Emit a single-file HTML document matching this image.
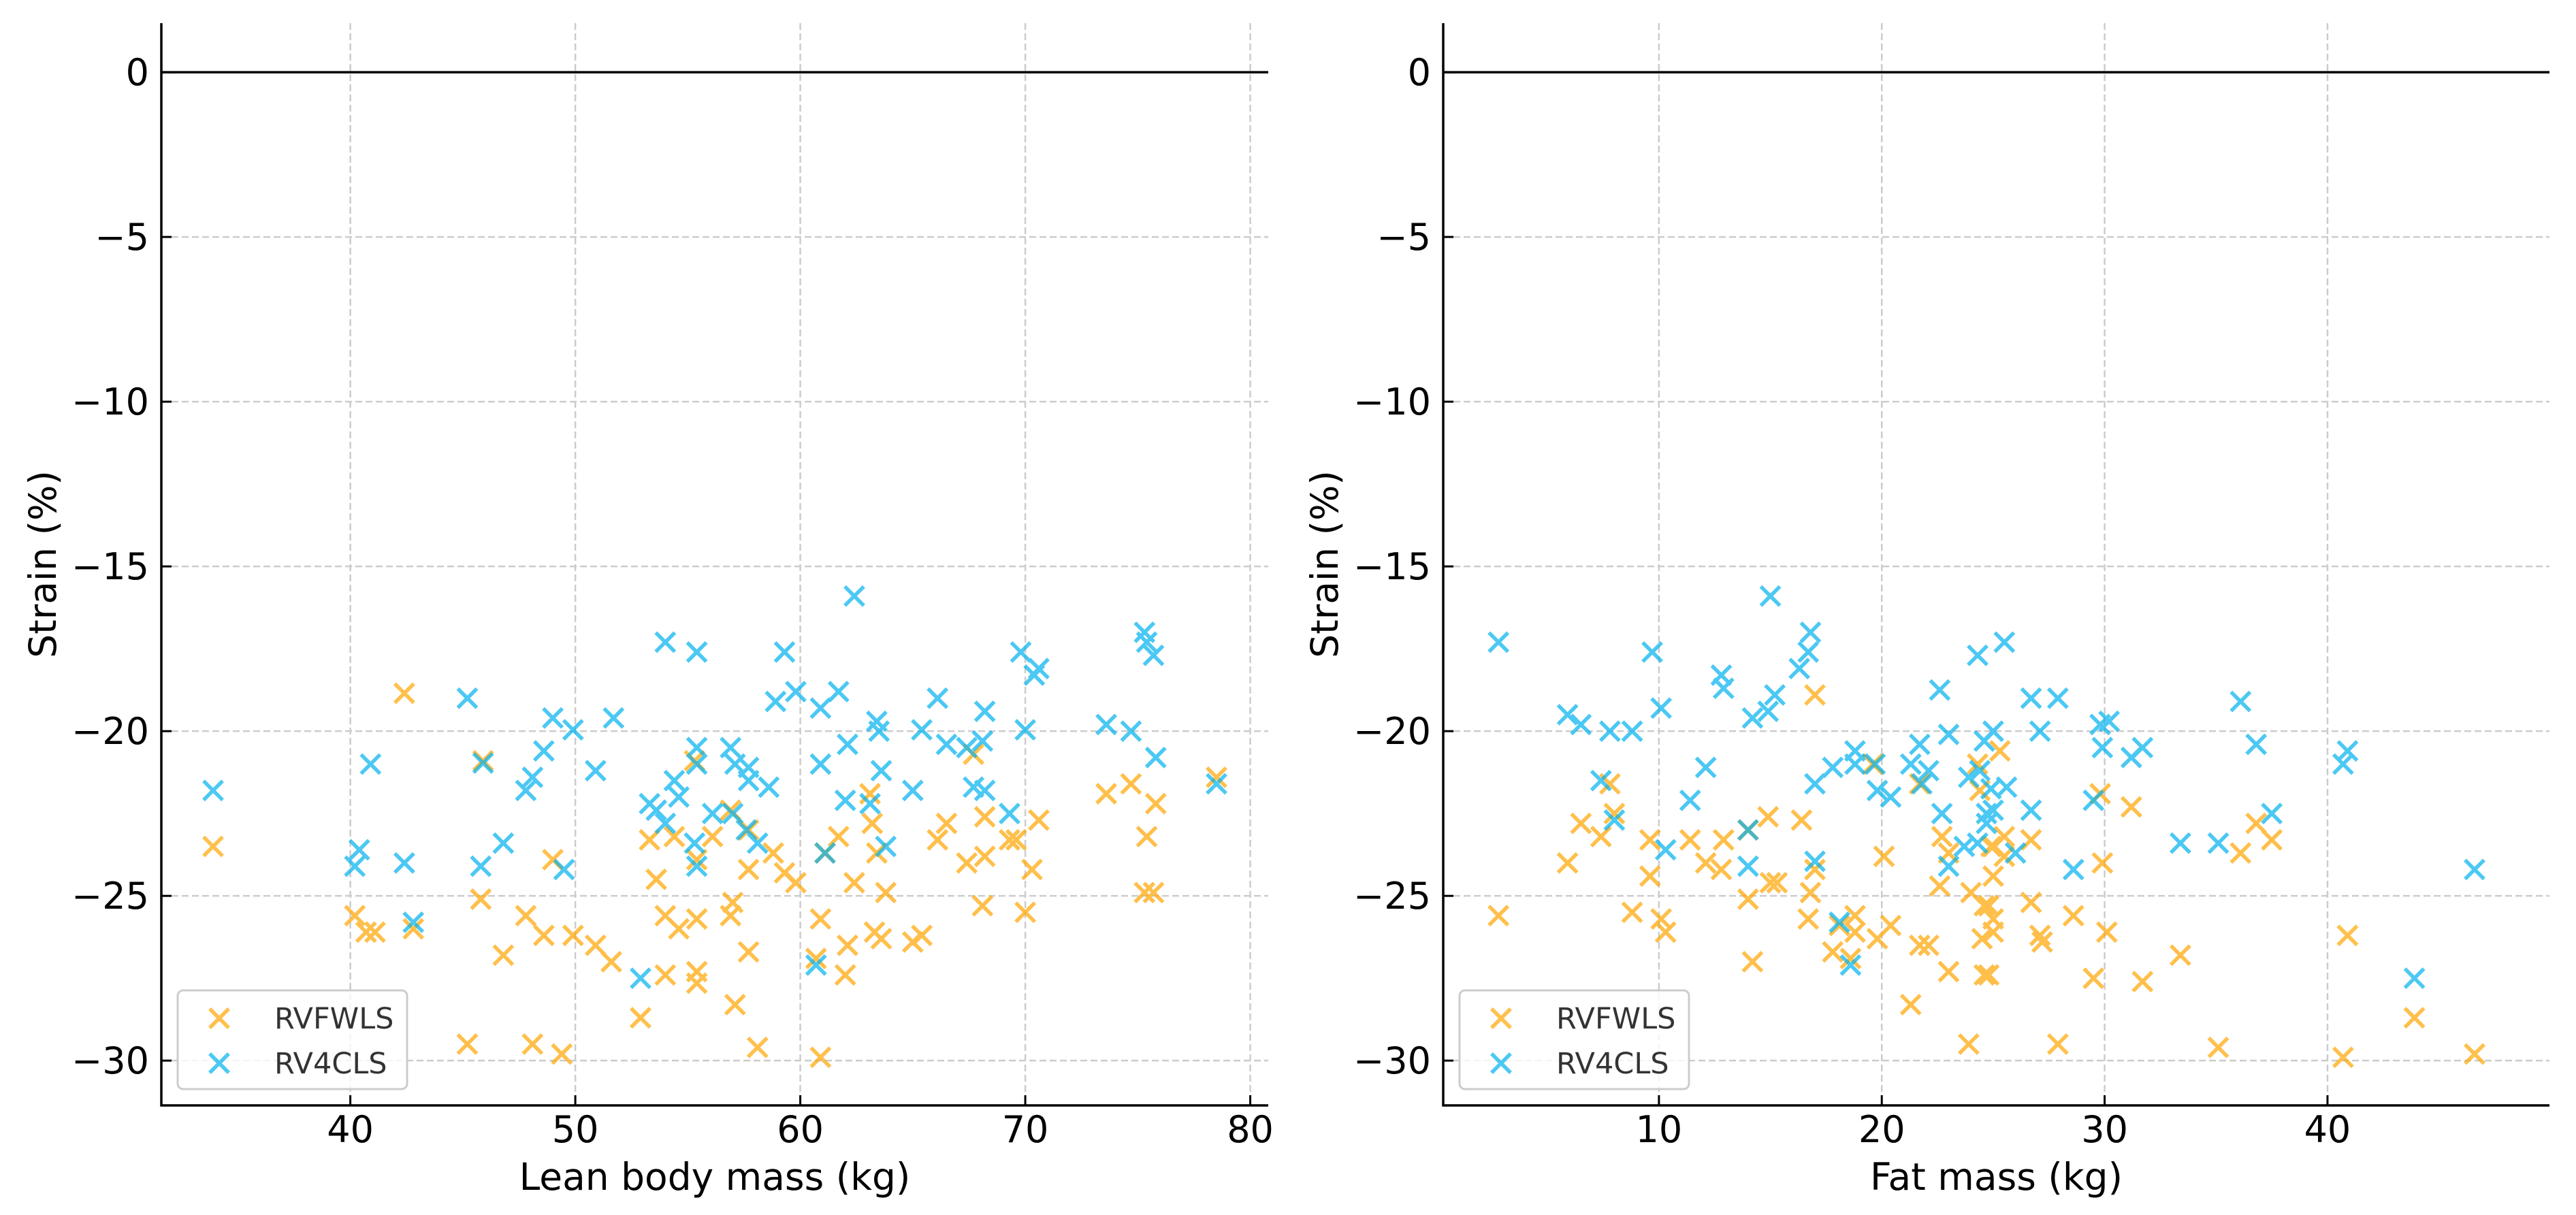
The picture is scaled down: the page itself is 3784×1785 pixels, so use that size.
<!DOCTYPE html>
<html><head><meta charset="utf-8"><style>
html,body{margin:0;padding:0;background:#fff;}
svg{display:block;font-family:"DejaVu Sans","Liberation Sans",sans-serif;}
</style></head><body>
<svg id="chart" width="3784" height="1785" viewBox="0 0 3784 1785" xmlns="http://www.w3.org/2000/svg"></svg>
<script>
// ---- data ----
const yTicks = [0, -5, -10, -15, -20, -25, -30];
const leanTicks = [40, 50, 60, 70, 80];
const fatTicks = [10, 20, 30, 40];
const seriesNames = ["RVFWLS", "RV4CLS"];

const leanRVFWLS_x = [33.9,42.4,45.9,40.2,40.7,41.1,42.8,45.8,46.8,49.0,47.8,48.6,49.9,50.9,51.6,45.2,48.1,49.4,52.9,53.3,53.6,54.4,54.0,54.6,54.0,55.4,55.4,55.4,55.3,55.4,56.1,56.9,57.7,57.7,58.8,59.3,59.8,57.0,56.9,57.7,57.1,58.1,60.9,60.9,60.7,62.0,62.1,62.4,61.7,63.1,63.2,63.4,63.8,63.3,63.6,65.0,65.4,66.1,66.5,67.4,67.7,68.2,68.2,68.1,69.3,69.6,70.3,70.6,70.0,73.6,74.7,75.8,75.4,75.3,75.7,78.5,61.1];
const leanRVFWLS_y = [-23.5,-18.85,-20.9,-25.6,-26.1,-26.1,-26.0,-25.1,-26.8,-23.9,-25.6,-26.2,-26.2,-26.5,-27.0,-29.5,-29.5,-29.8,-28.7,-23.3,-24.5,-23.2,-25.6,-26.0,-27.4,-25.7,-27.3,-27.65,-20.9,-23.9,-23.2,-22.4,-23.0,-24.2,-23.7,-24.3,-24.6,-25.2,-25.6,-26.7,-28.3,-29.6,-29.9,-25.7,-26.9,-27.4,-26.5,-24.6,-23.2,-21.9,-22.8,-23.7,-24.9,-26.1,-26.3,-26.4,-26.2,-23.3,-22.8,-24.0,-20.7,-22.6,-23.8,-25.3,-23.3,-23.3,-24.2,-22.7,-25.5,-21.9,-21.6,-22.2,-23.2,-24.9,-24.9,-21.4,-23.7];
const leanRV4CLS_x = [33.9,40.9,40.2,40.4,42.4,42.8,45.2,45.9,45.8,46.8,47.8,48.1,48.6,49.0,49.5,49.9,50.9,51.7,52.9,53.3,53.6,54.0,54.4,54.6,54.0,55.4,55.4,55.4,55.3,55.4,56.1,56.9,57.1,57.7,57.7,58.6,58.1,57.6,57.0,59.3,58.9,59.8,60.9,61.7,62.4,60.9,62.1,63.1,63.4,63.5,63.6,63.8,60.7,62.0,65.0,65.4,66.1,66.5,67.4,68.2,68.1,67.7,68.2,69.3,69.8,70.0,70.4,70.6,73.6,74.7,75.3,75.4,75.7,75.8,78.5,61.1];
const leanRV4CLS_y = [-21.8,-21.0,-24.1,-23.6,-24.0,-25.8,-19.0,-20.97,-24.1,-23.4,-21.8,-21.4,-20.6,-19.6,-24.2,-19.96,-21.2,-19.6,-27.5,-22.2,-22.4,-22.8,-21.5,-22.0,-17.3,-17.6,-20.5,-21.0,-23.4,-24.1,-22.5,-20.5,-21.0,-21.1,-21.5,-21.7,-23.4,-23.0,-22.5,-17.6,-19.1,-18.8,-19.3,-18.8,-15.9,-21.0,-20.4,-22.2,-19.7,-20.0,-21.2,-23.5,-27.1,-22.1,-21.8,-19.96,-19.0,-20.4,-20.5,-19.4,-20.3,-21.7,-21.8,-22.5,-17.6,-19.96,-18.3,-18.1,-19.8,-20.0,-17.0,-17.3,-17.7,-20.8,-21.6,-23.7];

const fatRVFWLS_x = [2.8,5.9,6.5,7.4,7.8,8.0,8.8,9.6,9.6,10.1,10.3,11.4,12.1,12.8,12.9,14.0,14.0,14.2,14.9,15.0,15.3,16.4,16.8,16.7,17.0,17.0,17.8,18.1,18.8,18.8,18.6,19.6,20.1,19.8,20.4,21.7,21.7,22.1,21.3,22.7,23.0,22.6,23.0,23.9,24.3,24.4,24.0,24.6,24.5,24.6,24.9,25.3,25.5,25.0,25.5,25.0,24.8,25.0,25.0,24.8,26.7,26.7,27.1,27.2,27.9,28.6,29.5,29.8,29.9,30.1,31.2,31.7,33.4,35.1,36.1,36.8,37.5,40.9,40.7,43.9,46.6];
const fatRVFWLS_y = [-25.6,-24.0,-22.8,-23.2,-21.6,-22.5,-25.5,-23.3,-24.4,-25.7,-26.1,-23.3,-24.0,-24.2,-23.3,-23.0,-25.1,-27.0,-22.6,-24.6,-24.6,-22.7,-24.9,-25.7,-18.9,-24.2,-26.7,-25.9,-25.6,-26.1,-26.9,-21.0,-23.8,-26.3,-25.9,-21.6,-26.5,-26.5,-28.3,-23.2,-23.7,-24.7,-27.3,-29.5,-21.0,-21.8,-24.9,-25.3,-26.3,-27.4,-23.5,-20.6,-23.2,-23.5,-23.8,-24.4,-25.3,-25.7,-26.1,-27.4,-23.3,-25.2,-26.2,-26.4,-29.5,-25.6,-27.5,-21.9,-24.0,-26.1,-22.3,-27.6,-26.8,-29.6,-23.7,-22.8,-23.3,-26.2,-29.9,-28.7,-29.8];
const fatRV4CLS_x = [2.8,5.9,6.5,7.4,7.8,8.0,8.8,9.7,10.1,10.3,11.4,12.1,12.8,12.9,14.0,14.0,14.2,14.9,15.0,15.2,16.3,16.7,16.8,17.0,17.0,17.8,18.1,18.6,18.8,18.8,19.7,19.8,20.4,21.3,21.7,21.8,22.1,22.6,22.7,23.0,23.0,23.9,24.3,23.7,24.3,24.4,24.6,24.7,24.7,25.5,25.0,24.9,25.6,25.0,26.0,26.7,27.9,27.1,26.7,28.6,29.8,30.2,29.9,29.5,31.2,31.7,33.4,35.1,36.1,36.8,37.5,40.9,40.7,43.9,46.6];
const fatRV4CLS_y = [-17.3,-19.5,-19.8,-21.5,-20.0,-22.7,-20.0,-17.6,-19.3,-23.6,-22.1,-21.1,-18.3,-18.7,-23.0,-24.1,-19.6,-19.4,-15.9,-18.9,-18.1,-17.6,-17.0,-21.6,-23.95,-21.1,-25.8,-27.1,-21.0,-20.6,-21.0,-21.8,-22.0,-21.0,-20.4,-21.6,-21.2,-18.75,-22.5,-20.1,-24.1,-21.4,-17.7,-23.5,-23.4,-21.2,-20.3,-22.5,-22.8,-17.3,-20.0,-21.75,-21.7,-22.4,-23.7,-19.0,-19.0,-20.0,-22.4,-24.2,-19.8,-19.7,-20.5,-22.1,-20.8,-20.5,-23.4,-23.4,-19.1,-20.4,-22.5,-20.6,-21.0,-27.5,-24.2];

// ---- drawing ----
const NS = "http://www.w3.org/2000/svg";
const svg = document.getElementById("chart");
const COLORS = ["#FFA500", "#00B2EE"];
const TOP = 34, BOTTOM = 1624, YMAX = 1.49, YMIN = -31.36;

function mk(tag, attrs, parent) {
  const e = document.createElementNS(NS, tag);
  for (const k in attrs) e.setAttribute(k, attrs[k]);
  (parent || svg).appendChild(e);
  return e;
}

function drawPanel(key, x0, x1, xmin, xmax, xTicks, xTitle, sx1, sy1, sx2, sy2) {
  const g = mk("g", {});
  
  
  const X = v => x0 + (v - xmin) / (xmax - xmin) * (x1 - x0);
  const Y = v => TOP + (YMAX - v) / (YMAX - YMIN) * (BOTTOM - TOP);

  // grid
  const grid = mk("g", {stroke: "#cccccc", "stroke-width": 2.5, "stroke-dasharray": "10 5"}, g);
  
  
  xTicks.forEach(t => mk("line", {x1: X(t), x2: X(t), y1: TOP, y2: BOTTOM}, grid));
  yTicks.forEach(t => mk("line", {x1: x0, x2: x1, y1: Y(t), y2: Y(t)}, grid));

  // zero line
  const zl = mk("line", {x1: x0, x2: x1, y1: Y(0), y2: Y(0), stroke: "#000", "stroke-width": 3.5}, g);
  
  

  // points
  const series = [[sx1, sy1], [sx2, sy2]];
  series.forEach((s, si) => {
    const sg = mk("g", {stroke: COLORS[si], "stroke-width": 5.5, opacity: 0.7}, g);
    
    
    s[0].forEach((xv, i) => {
      const cx = X(xv), cy = Y(s[1][i]), r = 14;
      const p = mk("path", {d: `M${cx-r},${cy-r}L${cx+r},${cy+r}M${cx-r},${cy+r}L${cx+r},${cy-r}`, fill: "none"}, sg);
      
      
    });
  });

  // spines
  const sp = mk("path", {d: `M${x0},${TOP}L${x0},${BOTTOM}L${x1},${BOTTOM}`, fill: "none", stroke: "#000", "stroke-width": 3.5}, g);
  
  

  // ticks & labels
  const tg = mk("g", {"font-size": 54, fill: "#000"}, g);
  
  
  yTicks.forEach(t => {
    mk("line", {x1: x0, x2: x0 + 15, y1: Y(t), y2: Y(t), stroke: "#000", "stroke-width": 3}, tg);
    const tx = mk("text", {x: x0 - 18, y: Y(t) + 19, "text-anchor": "end"}, tg);
    tx.textContent = t === 0 ? "0" : "\u2212" + Math.abs(t);
    
    
  });
  xTicks.forEach(t => {
    mk("line", {x1: X(t), x2: X(t), y1: BOTTOM, y2: BOTTOM - 15, stroke: "#000", "stroke-width": 3}, tg);
    const tx = mk("text", {x: X(t), y: 1678, "text-anchor": "middle"}, tg);
    tx.textContent = String(t);
    
    
  });

  // axis titles
  const xt = mk("text", {x: (x0 + x1) / 2, y: 1748, "text-anchor": "middle", "font-size": 55}, g);
  xt.textContent = xTitle;
  
  
  const yx = x0 - 155, yy = (TOP + BOTTOM) / 2;
  const yt = mk("text", {x: yx, y: yy, "text-anchor": "middle", "font-size": 55, transform: `rotate(-90 ${yx} ${yy})`}, g);
  yt.textContent = "Strain (%)";
  
  

  // legend
  const lg = mk("g", {}, g);
  
  
  const lx = x0 + 24;
  mk("rect", {x: lx, y: 1455, width: 337, height: 145, rx: 8, fill: "#fff", "fill-opacity": 0.8, stroke: "#cccccc", "stroke-width": 3}, lg);
  seriesNames.forEach((n, i) => {
    const cy = 1496 + i * 66, cx = lx + 61, r = 14;
    const m = mk("path", {d: `M${cx-r},${cy-r}L${cx+r},${cy+r}M${cx-r},${cy+r}L${cx+r},${cy-r}`, stroke: COLORS[i], "stroke-width": 5.5, opacity: 0.7, fill: "none"}, lg);
    
    
    const t = mk("text", {x: lx + 142, y: cy + 15, "font-size": 43, fill: "#333"}, lg);
    t.textContent = n;
    
    
  });
}

drawPanel("lean", 237, 1863, 31.6, 80.8, leanTicks, "Lean body mass (kg)",
  leanRVFWLS_x, leanRVFWLS_y, leanRV4CLS_x, leanRV4CLS_y);
drawPanel("fat", 2120, 3745, 0.32, 49.96, fatTicks, "Fat mass (kg)",
  fatRVFWLS_x, fatRVFWLS_y, fatRV4CLS_x, fatRV4CLS_y);
</script>
</body></html>
